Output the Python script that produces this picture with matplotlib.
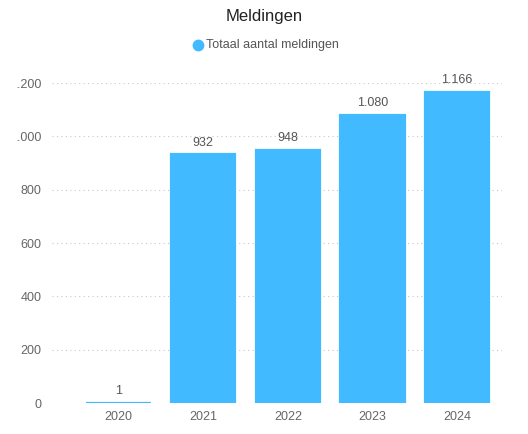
import matplotlib
matplotlib.use("Agg")
import matplotlib.pyplot as plt
from matplotlib.lines import Line2D
from matplotlib.transforms import Bbox, TransformedBbox

# data
years = ["2020", "2021", "2022", "2023", "2024"]
meldingen = [1, 932, 948, 1080, 1166]
bar_labels = ["1", "932", "948", "1.080", "1.166"]
y_ticks = [0, 200, 400, 600, 800, 1000, 1200]
y_tick_labels = ["0", "200", "400", "600", "800", "1.000", "1.200"]

blue = "#42BAFF"
W, H = 528, 434
plt.rcParams["font.family"] = ["Liberation Sans", "DejaVu Sans"]

fig = plt.figure(figsize=(W / 100, H / 100), dpi=100)
ax = fig.add_axes([52 / W, 1 - 403 / H, 450 / W, 320 / H])

x = list(range(len(years)))
# thin edge so the bar of 2020 stays visible like in the original
ax.bar(x, meldingen, width=0.76, color=blue, edgecolor=blue, linewidth=1.6, zorder=2)
for xi, v, lab in zip(x, meldingen, bar_labels):
    ax.text(xi, v + 22, lab, ha="center", va="bottom", fontsize=9,
            color="#555555", clip_on=False)

ax.set_xlim(-0.786, 4.53)
ax.set_ylim(0, 1200)
ax.set_xticks(x)
ax.set_xticklabels(years)
ax.set_yticks(y_ticks)
ax.set_yticklabels(y_tick_labels)
ax.tick_params(length=0, labelsize=9, colors="#666666")
ax.tick_params(axis="y", pad=7.5)
ax.tick_params(axis="x", pad=6)
ax.grid(axis="y", linestyle=(0, (1, 3)), color="#c8c8c8", linewidth=0.8, zorder=0)
for s in ax.spines.values():
    s.set_visible(False)

# the y labels are cut off at the left edge in the original
clip = TransformedBbox(Bbox([[17 / W, 0], [1, 1]]), fig.transFigure)
for t in ax.get_yticklabels():
    t.set_clip_box(clip)
    t.set_clip_on(True)

fig.text(0.5, 1 - 17 / H, "Meldingen", ha="center", va="center",
         fontsize=12, color="#222222")
fig.text(206 / W, 1 - 45 / H, "Totaal aantal meldingen", ha="left", va="center",
         fontsize=9, color="#555555")
fig.add_artist(Line2D([198 / W], [1 - 45 / H], marker="o", markersize=7.5,
                      color=blue, linestyle="none", transform=fig.transFigure))

fig.savefig("out.png", dpi=100)
